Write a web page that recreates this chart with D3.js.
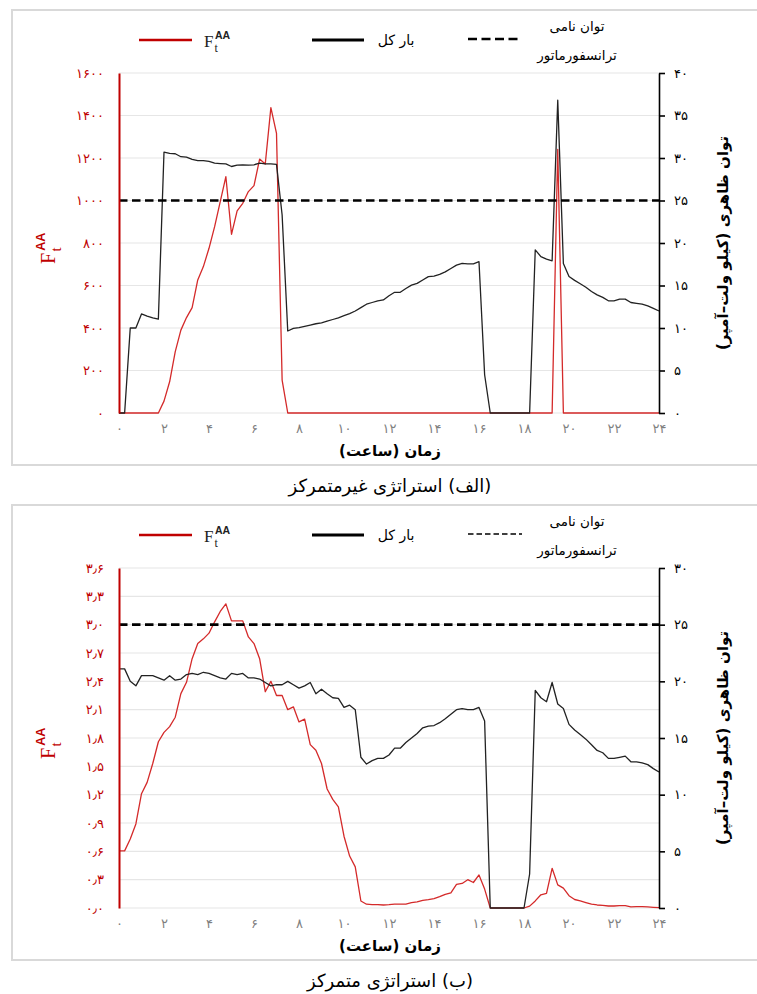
<!DOCTYPE html>
<html>
<head>
<meta charset="utf-8">
<script src="https://cdn.jsdelivr.net/npm/d3@7"></script>
<style>
  body { margin: 0; background: #fff; }
  svg { display: block; }
</style>
</head>
<body>
<svg id="chart" width="757" height="994"></svg>
<script>
// ---- time axis (hours, 15-minute steps) ----
const hours = d3.range(0, 24.25, 0.25);
const hourTicks = [0, 2, 4, 6, 8, 10, 12, 14, 16, 18, 20, 22, 24];

// ---- rated transformer power (kVA) ----
const ratedPower = 25;

// ---- panel (a): decentralised strategy ----
const fTicksA = [0, 200, 400, 600, 800, 1000, 1200, 1400, 1600];
const loadTicksA = [0, 5, 10, 15, 20, 25, 30, 35, 40];
const fA = [
  0, 0, 0, 0, 0, 0, 0, 0,
  56, 147, 289, 390, 449, 496, 626, 689,
  775, 877, 995, 1112, 841, 951, 987, 1042,
  1070, 1195, 1172, 1437, 1316, 155, 0, 0,
  0, 0, 0, 0, 0, 0, 0, 0,
  0, 0, 0, 0, 0, 0, 0, 0,
  0, 0, 0, 0, 0, 0, 0, 0,
  0, 0, 0, 0, 0, 0, 0, 0,
  0, 0, 0, 0, 0, 0, 0, 0,
  0, 0, 0, 0, 0, 0, 1240, 0,
  0, 0, 0, 0, 0, 0, 0, 0,
  0, 0, 0, 0, 0, 0, 0, 0, 0
];
const loadA = [
  0, 0, 10.0, 10.0, 11.65, 11.4, 11.2, 11.05,
  30.7, 30.55, 30.5, 30.15, 30.1, 29.85, 29.7, 29.7,
  29.6, 29.4, 29.35, 29.3, 29.0, 29.15, 29.2, 29.15,
  29.2, 29.4, 29.3, 29.3, 29.25, 23.3, 9.65, 9.95,
  10.05, 10.2, 10.35, 10.5, 10.6, 10.8, 11.0, 11.2,
  11.45, 11.7, 12.0, 12.4, 12.8, 13.0, 13.2, 13.3,
  13.8, 14.2, 14.2, 14.65, 15.05, 15.25, 15.65, 16.05,
  16.1, 16.3, 16.6, 17.0, 17.4, 17.6, 17.55, 17.55,
  17.8, 4.5, 0, 0, 0, 0, 0, 0,
  0, 0, 19.2, 18.4, 18.1, 17.9, 36.8, 17.6,
  16.05, 15.6, 15.2, 14.8, 14.3, 13.9, 13.6, 13.2,
  13.2, 13.4, 13.4, 13.0, 12.9, 12.8, 12.6, 12.3, 12.0
];

// ---- panel (b): centralised strategy ----
const fTicksB = [0, 0.3, 0.6, 0.9, 1.2, 1.5, 1.8, 2.1, 2.4, 2.7, 3.0, 3.3, 3.6];
const loadTicksB = [0, 5, 10, 15, 20, 25, 30];
const fB = [
  0.605, 0.605, 0.73, 0.89, 1.21, 1.33, 1.53, 1.76,
  1.86, 1.92, 2.02, 2.27, 2.39, 2.64, 2.80, 2.85,
  2.91, 3.03, 3.14, 3.22, 3.04, 3.04, 3.04, 2.87,
  2.80, 2.64, 2.29, 2.40, 2.25, 2.25, 2.10, 2.13,
  1.97, 2.00, 1.73, 1.67, 1.53, 1.26, 1.15, 1.07,
  0.76, 0.55, 0.435, 0.074, 0.04, 0.035, 0.035, 0.032,
  0.035, 0.04, 0.04, 0.04, 0.057, 0.064, 0.08, 0.088,
  0.10, 0.12, 0.145, 0.16, 0.25, 0.26, 0.30, 0.27,
  0.35, 0.20, 0, 0, 0, 0, 0, 0,
  0, 0.02, 0.075, 0.14, 0.155, 0.42, 0.245, 0.21,
  0.13, 0.09, 0.075, 0.057, 0.04, 0.032, 0.028, 0.021,
  0.021, 0.025, 0.025, 0.011, 0.014, 0.014, 0.011, 0.007, 0.004
];
const loadB = [
  21.1, 21.1, 20.0, 19.6, 20.5, 20.5, 20.5, 20.3,
  20.1, 20.5, 20.1, 20.2, 20.6, 20.7, 20.6, 20.8,
  20.7, 20.5, 20.3, 20.2, 20.7, 20.6, 20.7, 20.3,
  20.3, 20.2, 19.9, 19.6, 19.7, 19.7, 20.0, 19.7,
  19.4, 19.6, 19.9, 18.9, 19.3, 18.9, 18.55, 18.5,
  17.7, 17.9, 17.5, 13.3, 12.7, 13.0, 13.2, 13.2,
  13.5, 14.1, 14.1, 14.6, 15.0, 15.4, 15.9, 16.05,
  16.1, 16.35, 16.7, 17.1, 17.5, 17.6, 17.5, 17.5,
  17.7, 16.5, 0, 0, 0, 0, 0, 0,
  0, 3.0, 19.2, 18.55, 18.2, 19.9, 18.0, 17.6,
  16.2, 15.7, 15.3, 14.9, 14.4, 13.9, 13.7, 13.2,
  13.2, 13.3, 13.4, 12.9, 12.9, 12.8, 12.65, 12.3, 12.0
];

// ---- texts ----
const legendLoad = "بار کل";
const legendRated = ["توان نامی", "ترانسفورماتور"];
const xTitle = "زمان (ساعت)";
const rightTitle = "توان ظاهری (کیلو ولت–آمپر)";
const captions = ["(الف) استراتژی غیرمتمرکز", "(ب) استراتژی متمرکز"];

// ---- styling ----
const RED_AXIS = "#c00000";
const RED_LINE = "#d42a2a";
const GRID = "#e6e6e6";
const FA_FONT = "DejaVu Sans, sans-serif";

const faDigits = "۰۱۲۳۴۵۶۷۸۹";
const toFa = s => String(s).replace(/[0-9]/g, d => faDigits[+d]).replace(".", "٫");

const svg = d3.select("#chart");
const x = d3.scaleLinear().domain([0, 24]).range([119, 659]);

// F_t^AA symbol: serif F with subscript t and superscript AA
function drawFSymbol(g, color) {
  g.append("text").attr("x", 0).attr("y", 0)
    .attr("font-family", "Liberation Serif, DejaVu Serif, serif")
    .attr("font-size", 17).attr("fill", color).text("F");
  g.append("text").attr("x", 10.5).attr("y", 5)
    .attr("font-family", "Liberation Serif, DejaVu Serif, serif")
    .attr("font-size", 12).attr("fill", color).text("t");
  g.append("text").attr("x", 11).attr("y", -8)
    .attr("font-family", "Liberation Sans, Arial, sans-serif")
    .attr("font-size", 10.5).attr("font-weight", 600).attr("fill", color).text("AA");
}

const panels = [
  { dy: 0, fMax: 1600, fTicks: fTicksA, fFmt: d3.format("d"), loadMax: 40, loadTicks: loadTicksA,
    f: fA, load: loadA, caption: captions[0], dashLegend: "9,4.5", dashLegendW: 2.4 },
  { dy: 495, fMax: 3.6, fTicks: fTicksB, fFmt: d3.format(".1f"), loadMax: 30, loadTicks: loadTicksB,
    f: fB, load: loadB, caption: captions[1], dashLegend: "5.5,3", dashLegendW: 1.5 }
];

panels.forEach(p => {
  const g = svg.append("g").attr("transform", `translate(0,${p.dy})`);
  const top = 73, bottom = 413;
  const yF = d3.scaleLinear().domain([0, p.fMax]).range([bottom, top]);
  const yL = d3.scaleLinear().domain([0, p.loadMax]).range([bottom, top]);

  // frame
  g.append("rect").attr("x", 12).attr("y", 10).attr("width", 760).attr("height", 455)
    .attr("fill", "none").attr("stroke", "#d9d9d9").attr("stroke-width", 2);

  // gridlines
  g.append("g").selectAll("line").data(p.fTicks).join("line")
    .attr("x1", x(0)).attr("x2", x(24))
    .attr("y1", d => yF(d)).attr("y2", d => yF(d))
    .attr("stroke", GRID).attr("stroke-width", 1.2);

  // series
  const lineF = d3.line().x((d, i) => x(hours[i])).y(d => yF(d));
  const lineL = d3.line().x((d, i) => x(hours[i])).y(d => yL(d));
  g.append("path").datum(p.f).attr("d", lineF)
    .attr("fill", "none").attr("stroke", RED_LINE).attr("stroke-width", 1.3).attr("stroke-linejoin", "round");
  g.append("path").datum(p.load).attr("d", lineL)
    .attr("fill", "none").attr("stroke", "#222").attr("stroke-width", 1.3).attr("stroke-linejoin", "round");

  // rated transformer power
  g.append("line").attr("x1", x(0)).attr("x2", x(24))
    .attr("y1", yL(ratedPower)).attr("y2", yL(ratedPower))
    .attr("stroke", "#000").attr("stroke-width", 2.6).attr("stroke-dasharray", "8.5,4.5");

  // left axis (F)
  const ax = g.append("g").attr("transform", `translate(${x(0)},0)`)
    .call(d3.axisLeft(yF).tickValues(p.fTicks).tickSize(0).tickSizeOuter(0).tickPadding(15)
      .tickFormat(d => toFa(p.fFmt(d))));
  ax.select(".domain").attr("stroke", RED_AXIS).attr("stroke-width", 2);
  ax.selectAll("text").attr("fill", RED_AXIS).attr("font-family", FA_FONT).attr("font-size", 13);

  // right axis (apparent power)
  const ar = g.append("g").attr("transform", `translate(${x(24)},0)`)
    .call(d3.axisRight(yL).tickValues(p.loadTicks).tickSize(6).tickSizeOuter(0).tickPadding(9)
      .tickFormat(d => toFa(d)));
  ar.select(".domain").attr("stroke", "#000").attr("stroke-width", 1.6);
  ar.selectAll(".tick line").attr("stroke", "#000").attr("stroke-width", 1.6);
  ar.selectAll("text").attr("fill", "#000").attr("font-family", FA_FONT).attr("font-size", 13);

  // bottom axis (hours)
  const ab = g.append("g").attr("transform", `translate(0,${bottom})`)
    .call(d3.axisBottom(x).tickValues(hourTicks).tickSize(0).tickPadding(11)
      .tickFormat(d => toFa(d)));
  ab.select(".domain").remove();
  ab.selectAll("text").attr("fill", "#7f7f7f").attr("font-family", FA_FONT).attr("font-size", 13);

  // axis titles
  g.append("text").attr("x", 390).attr("y", 456)
    .attr("direction", "rtl").attr("text-anchor", "middle")
    .attr("font-family", FA_FONT).attr("font-weight", "bold").attr("font-size", 15)
    .attr("fill", "#000").text(xTitle);
  g.append("text").attr("transform", "translate(728,243) rotate(-90)")
    .attr("direction", "rtl").attr("text-anchor", "middle")
    .attr("font-family", FA_FONT).attr("font-weight", "bold").attr("font-size", 15)
    .attr("fill", "#000").text(rightTitle);
  const lt = g.append("g").attr("transform", "translate(55,264) rotate(-90) scale(1.2)");
  drawFSymbol(lt, RED_AXIS);

  // legend
  g.append("line").attr("x1", 139).attr("x2", 192).attr("y1", 40).attr("y2", 40)
    .attr("stroke", RED_AXIS).attr("stroke-width", 2.5);
  drawFSymbol(g.append("g").attr("transform", "translate(204,47)"), "#222");
  g.append("line").attr("x1", 312).attr("x2", 364).attr("y1", 40).attr("y2", 40)
    .attr("stroke", "#000").attr("stroke-width", 3);
  g.append("text").attr("x", 396).attr("y", 45)
    .attr("direction", "rtl").attr("text-anchor", "middle")
    .attr("font-family", FA_FONT).attr("font-size", 14).attr("fill", "#000").text(legendLoad);
  g.append("line").attr("x1", 468).attr("x2", 522).attr("y1", 39).attr("y2", 39)
    .attr("stroke", "#000").attr("stroke-width", p.dashLegendW).attr("stroke-dasharray", p.dashLegend);
  legendRated.forEach((t, i) => {
    g.append("text").attr("x", 577).attr("y", 31 + i * 29)
      .attr("direction", "rtl").attr("text-anchor", "middle")
      .attr("font-family", FA_FONT).attr("font-size", 13.5).attr("fill", "#000").text(t);
  });

  // caption
  g.append("text").attr("x", 390).attr("y", 492)
    .attr("direction", "rtl").attr("text-anchor", "middle")
    .attr("font-family", FA_FONT).attr("font-size", 18).attr("fill", "#000").text(p.caption);
});
</script>
</body>
</html>
